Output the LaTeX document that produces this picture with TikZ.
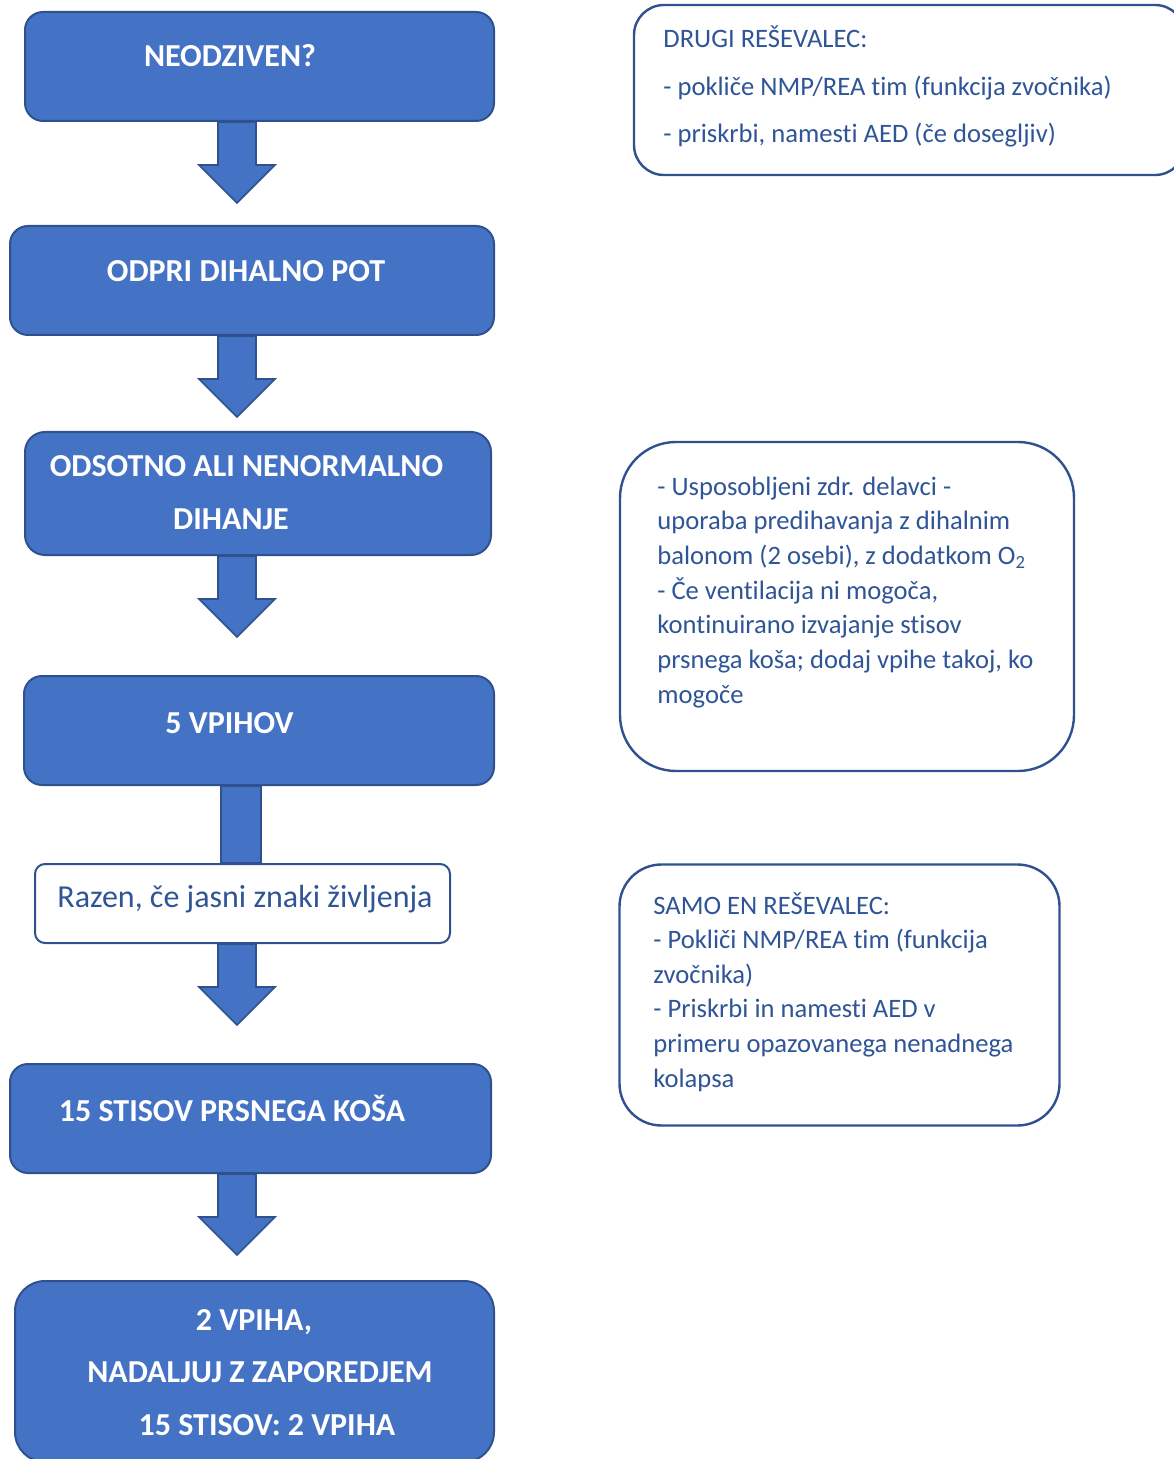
\documentclass[tikz,border=0pt]{standalone}
\usepackage{fontspec}
\setmainfont{Carlito}[Ligatures=NoCommon]
\usetikzlibrary{calc,backgrounds}
\definecolor{boxfill}{HTML}{4472C4}
\definecolor{boxline}{HTML}{2F528F}
\definecolor{txtblue}{HTML}{2F5597}
\newcommand\cl[2]{\hbox to 0pt{\hss\kern#1\relax#2\kern-#1\relax\hss}}
\newcommand\lines[2]{\vtop{\baselineskip=#1\lineskiplimit=-100pt\relax#2}}
\newcommand\blockarrow[2]{\filldraw[arr] (#1.south -| #2) ++(-19,0) -- ++(0,43) -- ++(-19,0) -- ++(38,38) -- ++(38,-38) -- ++(-19,0) -- ++(0,-43) -- cycle;}
\begin{document}
\begin{tikzpicture}[x=0.5pt,y=-0.5pt,
  bluebox/.style={draw=boxline,fill=boxfill,line width=1pt,rounded corners=9pt,inner sep=0pt},
  whitebox/.style={draw=boxline,fill=white,line width=1.2pt,inner sep=0pt},
  boldtxt/.style={text=white,font=\fontsize{16}{19}\selectfont\bfseries,inner sep=0pt,anchor=base},
  notetxt/.style={text=txtblue,font=\fontsize{13.3}{16}\selectfont,inner sep=0pt,anchor=base west},
  arr/.style={draw=boxline,fill=boxfill,line width=0.8pt}]
\useasboundingbox (0,0) rectangle (1173,1459);
% left column boxes
\node[bluebox,minimum width=234.5pt,minimum height=54.5pt] (b1) at (259.5,66.5) {};
\node[bluebox,minimum width=242pt,minimum height=54.5pt] (b2) at (252,280.5) {};
\node[bluebox,rounded corners=10pt,minimum width=233pt,minimum height=61.5pt] (b3) at (258,493.5) {};
\node[bluebox,minimum width=235pt,minimum height=54.5pt] (b4) at (259,730.5) {};
\node[whitebox,rounded corners=5pt,line width=1pt,minimum width=207.5pt,minimum height=39.5pt] (razen) at (242.5,903.5) {};
\node[bluebox,minimum width=240.5pt,minimum height=54.5pt] (b5) at (250.5,1118.5) {};
\node[bluebox,rounded corners=15pt,minimum width=239.5pt,minimum height=90.5pt] (b6) at (254.5,1371.5) {};
% right column boxes
\node[whitebox,rounded corners=15pt,minimum width=275.5pt,minimum height=85pt] (r1) at (909.5,90) {};
\node[whitebox,rounded corners=28pt,minimum width=227pt,minimum height=164.5pt] (r2) at (847,606.5) {};
\node[whitebox,rounded corners=21pt,minimum width=220pt,minimum height=130.5pt] (r3) at (839.5,995) {};
% texts
\node[boldtxt] (t1) at (230,67) {NEODZIVEN?};
\node[boldtxt] (t2) at (246,282) {ODPRI DIHALNO POT};
\node[boldtxt] (t3) at (246.5,477) {\lines{26.5pt}{\cl{0pt}{ODSOTNO ALI NENORMALNO}\cl{-7.75pt}{DIHANJE}}};
\node[boldtxt] (t4) at (229.5,733) {5 VPIHOV};
\node[text=txtblue,font=\fontsize{16}{19}\selectfont,inner sep=0pt,anchor=base] (t5) at (245,907) {Razen, če jasni znaki življenja};
\node[boldtxt] (t6) at (232,1121) {15 STISOV PRSNEGA KOŠA};
\node[boldtxt] (t7) at (260,1330) {\lines{26.25pt}{\cl{-3pt}{2 VPIHA,}\cl{0pt}{NADALJUJ Z ZAPOREDJEM}\cl{3.5pt}{15 STISOV: 2 VPIHA}}};
\node[notetxt] (n1) at (663,48) {\lines{23.75pt}{\hbox{DRUGI REŠEVALEC:}\hbox{- pokliče NMP/REA tim (funkcija zvočnika)}\hbox{- priskrbi, namesti AED (če dosegljiv)}}};
\node[notetxt] (n2) at (657,495) {\lines{17.35pt}{\hbox{- Usposobljeni zdr. delavci -}\hbox{uporaba predihavanja z dihalnim}\hbox{balonom (2 osebi), z dodatkom O\textsubscript{2}}\hbox{- Če ventilacija ni mogoča,}\hbox{kontinuirano izvajanje stisov}\hbox{prsnega koša; dodaj vpihe takoj, ko}\hbox{mogoče}}};
\node[notetxt] (n3) at (653,914) {\lines{17.3pt}{\hbox{SAMO EN REŠEVALEC:}\hbox{- Pokliči NMP/REA tim (funkcija}\hbox{zvočnika)}\hbox{- Priskrbi in namesti AED v}\hbox{primeru opazovanega nenadnega}\hbox{kolapsa}}};
% connectors
\coordinate (col) at (237,0);
\coordinate (col2) at (241,0);
\begin{scope}[on background layer]
\blockarrow{b1}{col}
\blockarrow{b2}{col}
\blockarrow{b3}{col}
\filldraw[arr] ($(b4.south -| col2)+(-20,0)$) rectangle ($(razen.north -| col2)+(20,0)$);
\blockarrow{razen}{col}
\blockarrow{b5}{col}
\end{scope}
\end{tikzpicture}
\end{document}
